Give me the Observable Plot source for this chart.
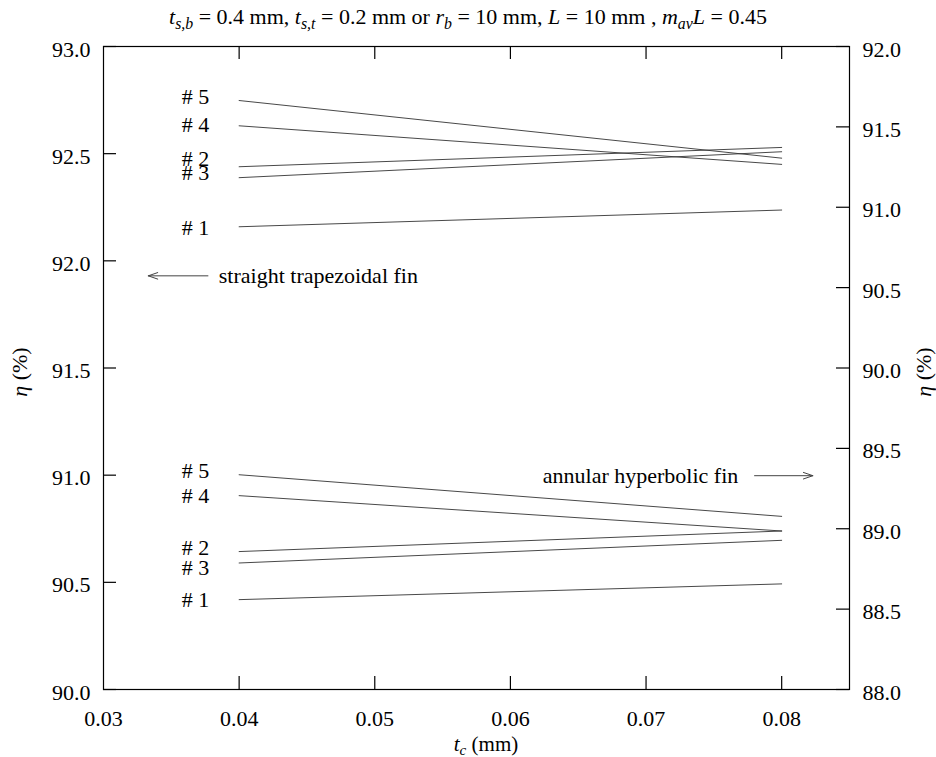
<!DOCTYPE html>
<html>
<head>
<meta charset="utf-8">
<script src="https://cdn.jsdelivr.net/npm/d3@7"></script>
<script src="https://cdn.jsdelivr.net/npm/@observablehq/plot@0.6"></script>
<style>
  body { margin: 0; background: #fff; }
  #wrap { position: relative; width: 936px; height: 757px; font-family: "Liberation Serif", "Times New Roman", "DejaVu Serif", serif; color: #000; }
  #wrap svg, #wrap svg text { font-family: "Liberation Serif", "Times New Roman", "DejaVu Serif", serif !important; }
  .lbl { position: absolute; white-space: nowrap; font-size: 22px; line-height: 1; }
  sub { font-size: 0.72em; vertical-align: -0.32em; line-height: 0; font-style: italic; }
</style>
</head>
<body>
<div id="wrap">
  <div class="lbl" id="title" style="left:468px; top:17px; transform:translate(-50%,-50%); font-size:22px;">
    <i>t</i><sub>s,b</sub> = 0.4 mm, <i>t</i><sub>s,t</sub> = 0.2 mm or <i>r</i><sub>b</sub> = 10 mm, <i>L</i> = 10 mm , <i>m</i><sub>av</sub><i>L</i> = 0.45
  </div>
  <div class="lbl" style="left:486px; top:744px; transform:translate(-50%,-50%); font-size:21px;"><i>t</i><sub>c</sub> (mm)</div>
  <div class="lbl" style="left:20px; top:372px; transform:translate(-50%,-50%) rotate(-90deg); font-size:22px;"><i>η</i> (%)</div>
  <div class="lbl" style="left:924px; top:372px; transform:translate(-50%,-50%) rotate(-90deg); font-size:22px;"><i>η</i> (%)</div>
</div>
<script>
// ---- data ----
const xValues = [0.04, 0.08];
const series = ["# 1", "# 2", "# 3", "# 4", "# 5"];
// straight trapezoidal fin (left axis), at t_c = 0.04 and 0.08
const straightAt004 = [92.159, 92.439, 92.388, 92.630, 92.748];
const straightAt008 = [92.237, 92.529, 92.509, 92.450, 92.479];
// annular hyperbolic fin (right axis), at t_c = 0.04 and 0.08
const annularAt004 = [88.559, 88.858, 88.787, 89.206, 89.336];
const annularAt008 = [88.657, 88.986, 88.928, 88.986, 89.077];
// series label anchors (axis units)
const straightLabelY = [92.154, 92.474, 92.409, 92.635, 92.765];
const annularLabelY = [88.557, 88.883, 88.754, 89.206, 89.361];
// tick values
const xTicks = [0.03, 0.04, 0.05, 0.06, 0.07, 0.08];
const leftTicks = [90.0, 90.5, 91.0, 91.5, 92.0, 92.5, 93.0];
const rightTicks = [88.0, 88.5, 89.0, 89.5, 90.0, 90.5, 91.0, 91.5, 92.0];
// annotations
const annotations = [
  {text: "straight trapezoidal fin", x: 0.0385, y: 91.93, anchor: "start", x1: 0.0377, x2: 0.0333, axis: "left"},
  {text: "annular hyperbolic fin", x: 0.0768, y: 89.33, anchor: "end", x1: 0.0780, x2: 0.0823, axis: "right"}
];

// ---- helpers ----
const leftDomain = [90, 93], rightDomain = [88, 92];
const toLeft = r => leftDomain[0] + (r - rightDomain[0]) * (leftDomain[1] - leftDomain[0]) / (rightDomain[1] - rightDomain[0]);
const toRight = l => rightDomain[0] + (l - leftDomain[0]) * (rightDomain[1] - rightDomain[0]) / (leftDomain[1] - leftDomain[0]);

const rows = [];
series.forEach((s, i) => {
  rows.push({fin: "straight", s, x: xValues[0], y: straightAt004[i]});
  rows.push({fin: "straight", s, x: xValues[1], y: straightAt008[i]});
  rows.push({fin: "annular", s, x: xValues[0], y: toLeft(annularAt004[i])});
  rows.push({fin: "annular", s, x: xValues[1], y: toLeft(annularAt008[i])});
});
const labels = [];
series.forEach((s, i) => {
  labels.push({s, x: xValues[0], y: straightLabelY[i]});
  labels.push({s, x: xValues[0], y: toLeft(annularLabelY[i])});
});
const ann = annotations.map(a => ({...a, yl: a.axis === "left" ? a.y : toLeft(a.y)}));

const W = 936, H = 757, mL = 103, mR = 87, mT = 46, mB = 68;
const innerW = W - mL - mR, innerH = H - mT - mB, tick = 13;

const chart = Plot.plot({
  width: W, height: H,
  marginLeft: mL, marginRight: mR, marginTop: mT, marginBottom: mB,
  style: {fontSize: "22px", color: "#000", background: "transparent"},
  x: {domain: [0.03, 0.085]},
  y: {domain: leftDomain},
  marks: [
    Plot.frame({stroke: "#000", strokeWidth: 1.2}),
    // ticks (inward)
    Plot.ruleY(leftTicks, {y: d => d, insetRight: innerW - tick, stroke: "#000", strokeWidth: 1.2}),
    Plot.ruleY(rightTicks.map(toLeft), {y: d => d, insetLeft: innerW - tick, stroke: "#000", strokeWidth: 1.2}),
    Plot.ruleX(xTicks.slice(1), {x: d => d, insetTop: innerH - tick, stroke: "#000", strokeWidth: 1.2}),
    Plot.ruleX(xTicks.slice(1), {x: d => d, insetBottom: innerH - tick, stroke: "#000", strokeWidth: 1.2}),
    // axis labels
    Plot.axisY(leftTicks, {anchor: "left", tickSize: 0, tickPadding: 13, dy: 3, tickFormat: d => d.toFixed(1), label: null}),
    Plot.axisY(rightTicks.map(toLeft), {anchor: "right", tickSize: 0, tickPadding: 13, dy: 3, tickFormat: d => toRight(d).toFixed(1), label: null}),
    Plot.axisX(xTicks, {anchor: "bottom", tickSize: 0, tickPadding: 21, tickFormat: d => d.toFixed(2), label: null}),
    // data lines
    Plot.line(rows, {x: "x", y: "y", z: d => d.fin + d.s, stroke: "#333", strokeWidth: 0.9}),
    // series labels
    Plot.text(labels, {x: "x", y: "y", text: "s", textAnchor: "end", dx: -30, fill: "#000"}),
    // annotations
    Plot.text(ann.filter(a => a.anchor === "start"), {x: "x", y: "yl", text: "text", textAnchor: "start", fill: "#000"}),
    Plot.text(ann.filter(a => a.anchor === "end"), {x: "x", y: "yl", text: "text", textAnchor: "end", fill: "#000"}),
    Plot.arrow(ann, {x1: "x1", x2: "x2", y1: "yl", y2: "yl", stroke: "#444", strokeWidth: 1, headLength: 15, headAngle: 38})
  ]
});
document.getElementById("wrap").prepend(chart);
chart.style.position = "absolute";
chart.style.left = "0";
chart.style.top = "0";
</script>
</body>
</html>
